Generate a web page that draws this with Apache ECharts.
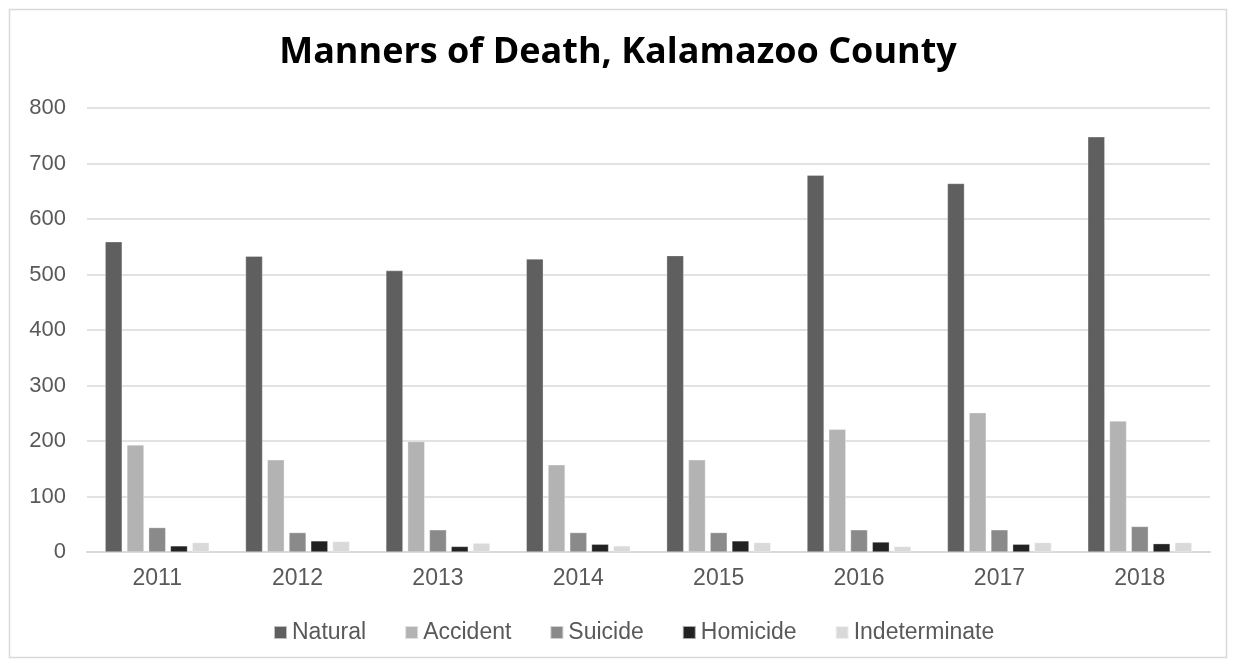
<!DOCTYPE html>
<html>
<head>
<meta charset="utf-8">
<script src="https://cdn.jsdelivr.net/npm/echarts@6/dist/echarts.min.js"></script>
<style>
  html, body { margin: 0; padding: 0; background: #fff; }
  #chart { width: 1236px; height: 666px; }
</style>
</head>
<body>
<div id="chart"></div>
<script>
// 年份
const years = ['2011', '2012', '2013', '2014', '2015', '2016', '2017', '2018']
const seriesNames = ['Natural', 'Accident', 'Suicide', 'Homicide', 'Indeterminate']
const natural = [559, 533, 507, 528, 534, 679, 664, 748]
const accident = [193, 166, 199, 157, 166, 221, 251, 236]
const suicide = [44, 35, 40, 35, 35, 40, 40, 46]
const homicide = [11, 20, 10, 14, 20, 18, 14, 15]
const indeterminate = [17, 19, 16, 11, 17, 10, 17, 17]
const yTicks = [0, 100, 200, 300, 400, 500, 600, 700, 800]

const colors = ['#5f5f5f', '#b3b3b3', '#8a8a8a', '#222222', '#d9d9d9']
const values = [natural, accident, suicide, homicide, indeterminate]

const chart = echarts.init(document.getElementById('chart'))

const option = {
  animation: false,
  color: colors,
  title: {
    text: 'Manners of Death, Kalamazoo County',
    left: 'center',
    top: 30,
    textStyle: {
      fontFamily: 'Open Sans',
      fontWeight: 'bold',
      fontSize: 36,
      color: '#000',
    },
  },
  graphic: [
    {
      type: 'rect',
      shape: { x: 9.5, y: 9.5, width: 1217, height: 648 },
      style: { fill: 'none', stroke: '#d9d9d9', lineWidth: 1.5 },
      silent: true,
    },
  ],
  legend: {
    bottom: 17,
    left: 268,
    icon: 'rect',
    itemWidth: 13,
    itemHeight: 13,
    itemGap: 38,
    selectedMode: false,
    textStyle: {
      fontFamily: 'Liberation Sans',
      fontSize: 23,
      color: '#595959',
      padding: [0, 0, 0, 0],
    },
  },
  grid: {
    left: 87,
    right: 26,
    top: 108,
    bottom: 114,
  },
  xAxis: {
    type: 'category',
    data: years,
    axisTick: { show: false },
    axisLine: { lineStyle: { color: '#d9d9d9', width: 2 } },
    axisLabel: {
      fontFamily: 'Liberation Sans',
      fontSize: 23,
      color: '#595959',
      margin: 15,
    },
  },
  yAxis: {
    type: 'value',
    min: yTicks[0],
    max: yTicks[yTicks.length - 1],
    interval: 100,
    axisLine: { show: false },
    axisTick: { show: false },
    splitLine: { lineStyle: { color: '#d9d9d9', width: 1.5 } },
    axisLabel: {
      fontFamily: 'Liberation Sans',
      fontSize: 22,
      color: '#595959',
      margin: 21,
    },
  },
  series: seriesNames.map((name, i) => ({
    name: name,
    type: 'bar',
    data: values[i],
    barWidth: 17,
    barGap: '28%',
    itemStyle: {
      color: colors[i],
      borderColor: 'rgba(255,255,255,0.6)',
      borderWidth: 0.5,
    },
  })),
}

chart.setOption(option)
</script>
</body>
</html>
